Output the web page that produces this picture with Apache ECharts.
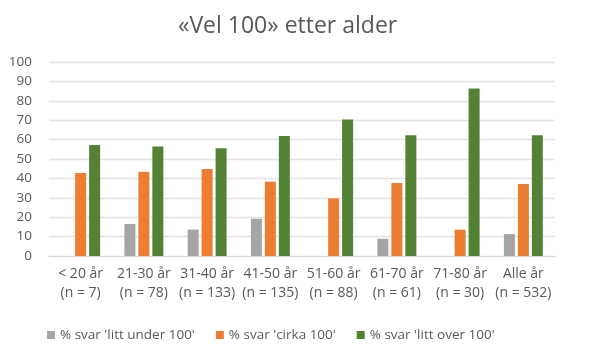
<!DOCTYPE html>
<html><head><meta charset="utf-8">
<script src="https://cdn.jsdelivr.net/npm/echarts@6/dist/echarts.min.js"></script>
<style>html,body{margin:0;padding:0;background:#fff}#c{width:593px;height:361px}</style>
</head><body><div id="c"></div>
<script>
const categories = ['< 20 år\n(n = 7)','21-30 år\n(n = 78)','31-40 år\n(n = 133)','41-50 år\n(n = 135)','51-60 år\n(n = 88)','61-70 år\n(n = 61)','71-80 år\n(n = 30)','Alle år\n(n = 532)'];
const seriesNames = ["% svar 'litt under 100'", "% svar 'cirka 100'", "% svar 'litt over 100'"];
const underValues = [0, 16.5, 13.6, 19.2, 0, 8.9, 0, 11.3];
const cirkaValues = [42.8, 43.4, 44.8, 38.3, 29.7, 37.6, 13.6, 37.1];
const overValues = [57.2, 56.5, 55.5, 61.9, 70.4, 62.2, 86.4, 62.2];
const colors = ['#A5A5A5', '#ED7D31', '#548235'];
const font = '"Open Sans", "Liberation Sans", sans-serif';
const chart = echarts.init(document.getElementById('c'), null, {renderer:'canvas'});
const mk = (name, data, color) => ({
  name, type:'bar', data, barWidth:11, barGap:'27%',
  itemStyle:{color},
  emphasis:{disabled:true}
});
chart.setOption({
  animation:false,
  title:{text:'«Vel 100» etter alder', left:173, top:10,
    textStyle:{fontFamily:font, fontSize:23, fontWeight:'normal', color:'#595959'}},
  grid:{left:49, right:38, top:62, bottom:105, containLabel:false},
  xAxis:{type:'category', data:categories,
    axisLine:{lineStyle:{color:'#D9D9D9', width:1}}, axisTick:{show:false},
    axisLabel:{fontFamily:font, fontSize:14, color:'#595959', lineHeight:19, margin:9, interval:0}},
  yAxis:{type:'value', min:0, max:100, interval:10,
    axisLine:{show:false}, axisTick:{show:false},
    splitLine:{lineStyle:{color:'#E4E4E4', width:1.3}},
    axisLabel:{fontFamily:font, fontSize:13.5, color:'#595959', margin:17}},
  legend:{bottom:14, left:42, itemWidth:8, itemHeight:8, itemGap:21, icon:'rect',
    textStyle:{fontFamily:font, fontSize:13.5, color:'#595959'}},
  series:[mk(seriesNames[0], underValues, colors[0]), mk(seriesNames[1], cirkaValues, colors[1]), mk(seriesNames[2], overValues, colors[2])]
});
</script></body></html>
